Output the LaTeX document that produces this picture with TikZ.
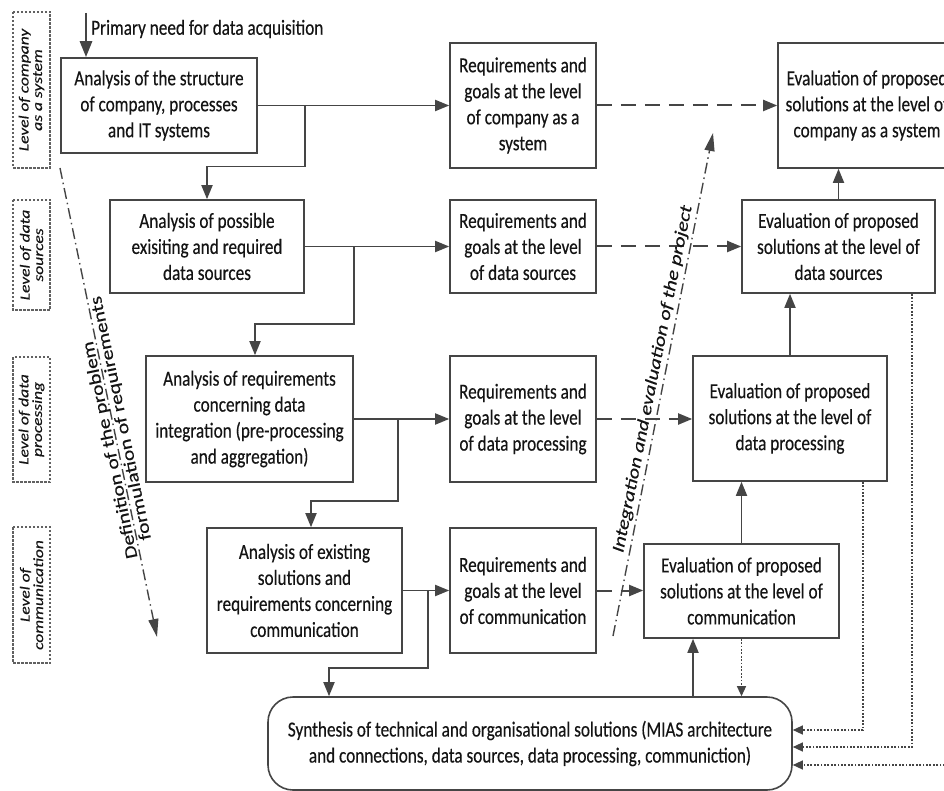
\documentclass[tikz,border=0pt]{standalone}
\usepackage{fontspec}
\setmainfont{Carlito}[FakeStretch=0.8,FakeBold=0.35]
\newfontfamily\rotfont{Carlito}[FakeStretch=1.25,FakeBold=0.35]
\usetikzlibrary{arrows.meta,calc}
\definecolor{lc}{HTML}{454545}
\definecolor{tc}{HTML}{141414}
\tikzset{
 box/.style={draw=lc, line width=1.6pt, inner sep=0pt, align=center, text=tc, font=\fontsize{21.5}{26}\selectfont},
 lvl/.style={draw=lc!85, line width=1.3pt, dash pattern=on 2.5pt off 1.5pt, inner sep=0pt, align=center, text=tc, rotate=90, font=\rotfont\itshape\fontsize{14}{13.5}\selectfont},
 conn/.style={draw=lc, line width=1.8pt},
 arr/.style={conn, -{Triangle[length=14pt,width=11pt]}},
 darr/.style={arr, line width=2pt, dash pattern=on 15pt off 9pt},
 dotarr/.style={draw=lc, line width=1.3pt, dash pattern=on 1.8pt off 1.6pt, -{Triangle[length=10pt,width=9pt]}},
 diag/.style={draw=lc, line width=1.4pt, dash pattern=on 11pt off 4pt on 1.5pt off 4pt, -{Triangle[length=18pt,width=10pt]}},
 rottxt/.style={text=tc, inner sep=0pt, font=\rotfont\fontsize{17.2}{17}\selectfont},
}
\begin{document}
\begin{tikzpicture}[x=1pt,y=-1pt]
\path[use as bounding box] (0,0) rectangle (944,791);
\clip (0,0) rectangle (944,791);

% level labels
\node[lvl, minimum width=156pt, minimum height=37pt] (L1) at (31.5,90) {Level of company\\as a system};
\node[lvl, minimum width=110pt, minimum height=37pt] (L2) at (31.5,255) {Level of data\\sources};
\node[lvl, minimum width=125pt, minimum height=37pt] (L3) at (31.5,419.5) {Level of data\\processing};
\node[lvl, minimum width=136pt, minimum height=37pt] (L4) at (31.5,595) {Level of\\communication};

% analysis boxes
\node[box, minimum width=196pt, minimum height=95pt] (A1) at (159,105.5) {Analysis of the structure\\of company, processes\\and IT systems};
\node[box, minimum width=194pt, minimum height=93pt] (A2) at (207,246.5) {Analysis of possible\\exisiting and required\\data sources};
\node[box, minimum width=207pt, minimum height=126pt] (A3) at (249.5,419) {Analysis of requirements\\concerning data\\integration (pre-processing\\and aggregation)};
\node[box, minimum width=195pt, minimum height=125pt] (A4) at (304.5,590.5) {Analysis of existing\\solutions and\\requirements concerning\\communication};

% requirement boxes
\node[box, minimum width=146pt, minimum height=125pt] (R1) at (523,105.5) {Requirements and\\goals at the level\\of company as a\\system};
\node[box, minimum width=146pt, minimum height=93pt] (R2) at (523,246.5) {Requirements and\\goals at the level\\of data sources};
\node[box, minimum width=146pt, minimum height=126pt] (R3) at (523,419) {Requirements and\\goals at the level\\of data processing};
\node[box, minimum width=146pt, minimum height=125pt] (R4) at (523,590.5) {Requirements and\\goals at the level\\of communication};

% evaluation boxes
\node[box, minimum width=178pt, minimum height=125pt] (E1) at (867,105.5) {Evaluation of proposed\\solutions at the level of\\company as a system};
\node[box, minimum width=193pt, minimum height=93pt] (E2) at (838.5,246.5) {Evaluation of proposed\\solutions at the level of\\data sources};
\node[box, minimum width=194pt, minimum height=125pt] (E3) at (790,418.5) {Evaluation of proposed\\solutions at the level of\\data processing};
\node[box, minimum width=195pt, minimum height=94pt] (E4) at (741.5,591) {Evaluation of proposed\\solutions at the level of\\communication};

% synthesis
\node[box, rounded corners=25pt, minimum width=524pt, minimum height=93pt] (S) at (530,743.5) {Synthesis of technical and organisational solutions (MIAS architecture\\and connections, data sources, data processing, communiction)};

% primary need
\coordinate (P) at (86,13);
\draw[draw=lc, line width=2.8pt, -{Triangle[length=16pt,width=12pt]}] (P) -- (P |- A1.north);
\node[anchor=west, text=tc, inner sep=0pt, font=\fontsize{21.5}{26}\selectfont] (PT) at (91,29) {Primary need for data acquisition};

% analysis chain
\draw[arr] (A1.east) -- (R1.west);
\draw[arr] (A1.east) -| ++(47,61) -| (A2.north);
\draw[arr] (A2.east) -- (R2.west);
\draw[arr] (A2.east) -| ++(49,77.5) -| ($(A3.north)+(5.5,0)$);
\draw[arr] (A3.east) -- (R3.west);
\draw[arr] (A3.east) -| ++(44,82) -| ($(A4.north)+(6.5,0)$);
\draw[arr] (A4.east) -- (R4.west);
\draw[arr] (A4.east) -| ++(25,77.5) -| ($(S.north)+(-201,0)$);

% requirements to evaluation
\draw[darr] (R1.east) -- (R1.east -| E1.west);
\draw[darr] (R2.east) -- (E2.west);
\draw[darr] (R3.east) -- (R3.east -| E3.west);
\draw[darr] (R4.east) -- (R4.east -| E4.west);

% evaluation chain
\draw[arr] (E2.north) -- (E2.north |- E1.south);
\draw[arr] (E3.north) -- (E3.north |- E2.south);
\draw[arr] (E4.north) -- (E4.north |- E3.south);
\draw[arr] ($(S.north)+(163,0)$) -- ($(E4.south)+(-48.5,0)$);
\draw[dotarr] (E4.south) -- (E4.south |- S.north);
\draw[dotarr] ($(E3.south)+(73,0)$) |- ($(S.east)+(0,-13.5)$);
\draw[dotarr] ($(E2.south)+(73.5,0)$) |- ($(S.east)+(0,3.5)$);
\draw[dotarr] ($(E1.south)+(80,0)$) |- ($(S.east)+(0,21.5)$);

% diagonals
\coordinate (D1s) at (60,168);
\coordinate (D1e) at (157,637);
\draw[diag] (D1s) -- (D1e);
\node[rottxt, rotate=101.7, align=center] (DT1) at (116,434) {Definition of the problem\hspace*{29pt}\\\hspace*{29pt}formulation of requirements};

\coordinate (D2s) at (613,636);
\coordinate (D2e) at (713,133);
\draw[diag] (D2s) -- (D2e);
\node[rottxt, rotate=78.8, font=\rotfont\itshape\fontsize{17.2}{18}\selectfont] (DT3) at (653,379) {Integration and evaluation of the project};
\end{tikzpicture}
\end{document}
